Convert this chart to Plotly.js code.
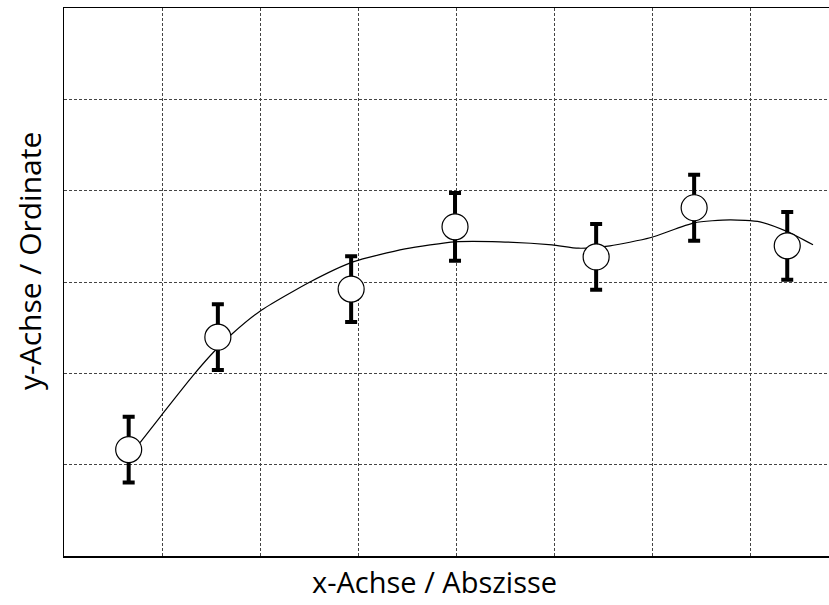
<!DOCTYPE html>
<html>
<head>
<meta charset="utf-8">
<script src="https://cdn.plot.ly/plotly-3.0.1.min.js"></script>
<style>html,body{margin:0;padding:0;background:#fff;overflow:hidden}</style>
</head>
<body>
<div id="chart" style="width:829px;height:605px"></div>
<script>
// Measured points
const xPoints = [0.66, 1.57, 2.93, 3.99, 5.43, 6.43, 7.38];
const yPoints = [1.165, 2.396, 2.923, 3.604, 3.275, 3.813, 3.396];
const yErrors = [0.36, 0.36, 0.36, 0.37, 0.36, 0.36, 0.37];
// Fitted curve
const xCurve = [0.776, 1.0, 1.316, 1.52, 1.714, 2.0, 2.51, 2.949, 3.48, 3.99, 4.449, 4.98, 5.25, 5.571, 5.98, 6.43, 6.796, 7.102, 7.388, 7.643];
const yCurve = [1.242, 1.549, 1.975, 2.225, 2.43, 2.68, 3.0, 3.22, 3.363, 3.44, 3.44, 3.407, 3.37, 3.396, 3.484, 3.648, 3.681, 3.659, 3.549, 3.407];
const xTitle = "x-Achse / Abszisse";
const yTitle = "y-Achse / Ordinate";

const traces = [
  {x: xCurve, y: yCurve, mode: "lines", line: {color: "#000", width: 1.2, shape: "spline", smoothing: 0.6}, hoverinfo: "skip", showlegend: false},
  {x: xPoints, y: yPoints, mode: "markers",
   marker: {symbol: "circle", size: 26, color: "#fff", line: {color: "#000", width: 1.2}},
   error_y: {type: "data", array: yErrors, visible: true, color: "#000", thickness: 4, width: 6},
   showlegend: false}
];

const layout = {
  width: 829, height: 605,
  margin: {l: 64, r: 0, t: 8, b: 49},
  paper_bgcolor: "#fff", plot_bgcolor: "#fff",
  font: {family: "Open Sans, DejaVu Sans, sans-serif", color: "#000"},
  xaxis: {range: [0, 765/98], dtick: 1, tick0: 0, showticklabels: false, ticks: "",
          showgrid: true, gridcolor: "#444", gridwidth: 1, griddash: "3px,2px",
          zeroline: false, showline: true, linecolor: "#000", linewidth: 1.5, mirror: true},
  yaxis: {range: [0, 6], dtick: 1, tick0: 0, showticklabels: false, ticks: "",
          showgrid: true, gridcolor: "#444", gridwidth: 1, griddash: "3px,2px",
          zeroline: false, showline: true, linecolor: "#000", linewidth: 1.5, mirror: false},
  annotations: [
    {text: xTitle, xref: "paper", yref: "paper", x: (434-64)/765, y: (556-581)/548,
     xanchor: "center", yanchor: "middle", showarrow: false, borderpad: 0, font: {size: 29, color: "#000"}},
    {text: yTitle, xref: "paper", yref: "paper", x: (29-64)/765, y: (556-261)/548,
     xanchor: "center", yanchor: "middle", textangle: -90, showarrow: false, font: {size: 30, color: "#000"}}
  ]
};

Plotly.newPlot("chart", traces, layout, {staticPlot: true, displayModeBar: false});
</script>
</body>
</html>
